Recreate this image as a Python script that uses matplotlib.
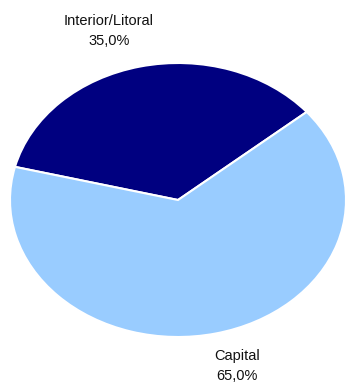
import matplotlib.pyplot as plt

regions = ["Interior/Litoral", "Capital"]
shares = [35.0, 65.0]
colors = ["#000080", "#99CCFF"]

plt.rcParams['font.family'] = ['Liberation Sans', 'DejaVu Sans']

fig = plt.figure(figsize=(3.45, 3.82), dpi=100)
# flattened pie: axes box is wider than tall and aspect left on auto
ax = fig.add_axes([10 / 345, 45 / 382, 336 / 345, 274 / 382])
ax.pie(shares, colors=colors, startangle=40, counterclock=True,
       wedgeprops=dict(edgecolor="white", linewidth=1.5))
ax.set_aspect('auto')
ax.set_xlim(-1, 1)
ax.set_ylim(-1, 1)

def fmt(v):
    return f"{v:.1f}%".replace(".", ",")

label_pos = [(109 / 345, 1 - 31 / 382), (237 / 345, 1 - 366 / 382)]
for name, val, (x, y) in zip(regions, shares, label_pos):
    fig.text(x, y, f"{name}\n{fmt(val)}", ha="center", va="center",
             fontsize=10.5, linespacing=1.55, color="#111111")

fig.savefig("out.png", dpi=100)
